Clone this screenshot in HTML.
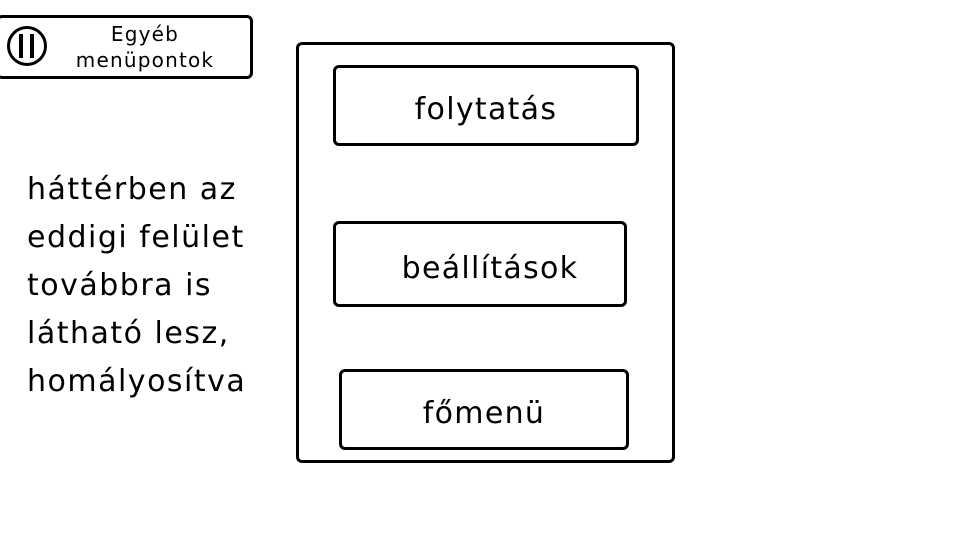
<!DOCTYPE html>
<html><head><meta charset="utf-8"><style>
body{margin:0;width:960px;height:540px;background:#fff;position:relative;overflow:hidden;font-family:"DejaVu Sans","Liberation Sans",sans-serif;color:#000}
.b{position:absolute;border:3px solid #000;border-radius:6px;box-sizing:border-box;display:flex;align-items:center;justify-content:center;font-size:30px;letter-spacing:1.3px;padding-top:8px}
.t{position:absolute;font-size:30px;letter-spacing:1.5px}
</style></head><body>
<div class="b" style="left:-4px;top:15px;width:257px;height:64px"></div>
<div style="position:absolute;left:7px;top:26px;width:40px;height:40px;border:3px solid #000;border-radius:50%;box-sizing:border-box"></div>
<div style="position:absolute;left:19px;top:34px;width:4px;height:24px;background:#000"></div>
<div style="position:absolute;left:30px;top:34px;width:4px;height:24px;background:#000"></div>
<div style="position:absolute;left:62px;top:21px;width:166px;text-align:center;font-size:20px;line-height:26px;letter-spacing:1.2px">Egyéb<br>menüpontok</div>
<div class="t" style="left:27px;top:166px;line-height:48px">háttérben az<br>eddigi felület<br>továbbra is<br>látható lesz,<br>homályosítva</div>
<div class="b" style="left:296px;top:42px;width:379px;height:421px"></div>
<div class="b" style="left:333px;top:65px;width:306px;height:81px">folytatás</div>
<div class="b" style="left:333px;top:221px;width:294px;height:86px;padding-left:20px">beállítások</div>
<div class="b" style="left:339px;top:369px;width:290px;height:81px">főmenü</div>
</body></html>
